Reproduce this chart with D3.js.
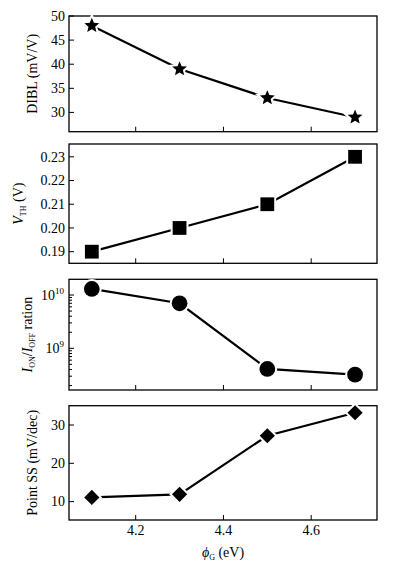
<!DOCTYPE html>
<html>
<head>
<meta charset="utf-8">
<script src="https://cdn.jsdelivr.net/npm/d3@7"></script>
<style>
  body { margin: 0; background: #fff; }
</style>
</head>
<body>
<svg id="chart" width="394" height="565" font-family="'Liberation Serif', 'Times New Roman', Times, serif"></svg>
<script>
// work function values (x axis)
var phiG = [4.1, 4.3, 4.5, 4.7];
var xTicks = [4.2, 4.4, 4.6];

// series
var dibl = [48, 39, 33, 29];
var vth = [0.19, 0.20, 0.21, 0.23];
var onOff = [1.3e10, 7.0e9, 4.1e8, 3.2e8];
var pointSS = [11.1, 11.9, 27.2, 33.2];

var diblTicks = [30, 35, 40, 45, 50];
var vthTicks = [0.19, 0.20, 0.21, 0.22, 0.23];
var ssTicks = [10, 20, 30];

var svg = d3.select("#chart");
var left = 69, right = 377;

var x = d3.scaleLinear().domain([4.048, 4.75]).range([left, right]);

// five point star with a fatter body than d3.symbolStar
var starPath = function(R) {
  var r = R * 0.45, pts = [];
  for (var k = 0; k < 10; k++) {
    var a = -Math.PI / 2 + k * Math.PI / 5;
    var rr = k % 2 ? r : R;
    pts.push([rr * Math.cos(a), rr * Math.sin(a)]);
  }
  return "M" + pts.join("L") + "Z";
};
var diamondPath = function(h) {
  return "M0," + (-h) + "L" + h + ",0L0," + h + "L" + (-h) + ",0Z";
};

var panels = [
  { top: 16, bottom: 131.7, y: d3.scaleLinear().domain([26, 50]), values: dibl,
    ticks: diblTicks, fmt: d3.format("d"), marker: starPath(7.8), labelX: 37 },
  { top: 144, bottom: 263.3, y: d3.scaleLinear().domain([0.1851, 0.2354]), values: vth,
    ticks: vthTicks, fmt: d3.format(".2f"), marker: d3.symbol().type(d3.symbolSquare).size(190)(), labelX: 23 },
  { top: 279.3, bottom: 390, y: d3.scaleLog().domain([Math.pow(10, 8.218), Math.pow(10, 10.295)]), values: onOff,
    log: true, marker: d3.symbol().type(d3.symbolCircle).size(195)(), labelX: 32 },
  { top: 405.7, bottom: 520, y: d3.scaleLinear().domain([5.2, 35.04]), values: pointSS,
    ticks: ssTicks, fmt: d3.format("d"), marker: diamondPath(7.6), labelX: 37, xLabels: true }
];

panels.forEach(function(p, i) {
  p.y.range([p.bottom, p.top]);
  var g = svg.append("g");

  // y ticks (inward)
  var yt = p.log ? p.y.ticks() : p.ticks;
  yt.forEach(function(t) {
    var major = !p.log || Math.abs(Math.log10(t) - Math.round(Math.log10(t))) < 1e-9;
    var yy = p.y(t);
    g.append("line")
      .attr("x1", left).attr("x2", left + (major ? 5 : 3))
      .attr("y1", yy).attr("y2", yy)
      .attr("stroke", "#000").attr("stroke-width", 1);
    if (p.log) {
      if (major) {
        var lt = g.append("text")
          .attr("x", 64).attr("y", yy + 4.5)
          .attr("text-anchor", "end")
          .style("font-size", "14px");
        lt.append("tspan").text("10");
        lt.append("tspan").attr("dy", -6).style("font-size", "9px").text(Math.round(Math.log10(t)));
      }
    } else {
      g.append("text")
        .attr("x", 65).attr("y", yy + 4.8)
        .attr("text-anchor", "end")
        .style("font-size", "14px")
        .text(p.fmt(t));
    }
  });

  // x ticks (inward from bottom)
  xTicks.forEach(function(t) {
    g.append("line")
      .attr("x1", x(t)).attr("x2", x(t))
      .attr("y1", p.bottom).attr("y2", p.bottom - 5)
      .attr("stroke", "#000").attr("stroke-width", 1);
    if (p.xLabels) {
      g.append("text")
        .attr("x", x(t)).attr("y", p.bottom + 15)
        .attr("text-anchor", "middle")
        .style("font-size", "14px")
        .text(t.toFixed(1));
    }
  });

  // frame
  g.append("rect")
    .attr("x", left).attr("y", p.top)
    .attr("width", right - left).attr("height", p.bottom - p.top)
    .attr("fill", "none").attr("stroke", "#000").attr("stroke-width", 1.3);

  // line
  var line = d3.line()
    .x(function(d, j) { return x(phiG[j]); })
    .y(function(d) { return p.y(d); });
  g.append("path")
    .datum(p.values)
    .attr("d", line)
    .attr("fill", "none")
    .attr("stroke", "#000")
    .attr("stroke-width", 2.2);

  // markers with white halo to leave a small gap
  p.values.forEach(function(v, j) {
    var tr = "translate(" + x(phiG[j]) + "," + p.y(v) + ")";
    g.append("path").attr("d", p.marker).attr("transform", tr)
      .attr("fill", "#fff").attr("stroke", "#fff").attr("stroke-width", 4);
    g.append("path").attr("d", p.marker).attr("transform", tr)
      .attr("fill", "#000");
  });

  // y label
  var cy = (p.top + p.bottom) / 2;
  var lab = g.append("text")
    .attr("transform", "translate(" + p.labelX + "," + cy + ") rotate(-90)")
    .attr("text-anchor", "middle")
    .style("font-size", "14px");
  if (i === 0) {
    lab.text("DIBL (mV/V)");
  } else if (i === 1) {
    lab.append("tspan").style("font-style", "italic").text("V");
    lab.append("tspan").attr("dy", 3).style("font-size", "8px").text("TH");
    lab.append("tspan").attr("dy", -3).text(" (V)");
  } else if (i === 2) {
    lab.append("tspan").style("font-style", "italic").text("I");
    lab.append("tspan").attr("dy", 3).style("font-size", "8px").text("ON");
    lab.append("tspan").attr("dy", -3).text("/");
    lab.append("tspan").style("font-style", "italic").text("I");
    lab.append("tspan").attr("dy", 3).style("font-size", "8px").text("OFF");
    lab.append("tspan").attr("dy", -3).text(" ration");
  } else {
    lab.text("Point SS (mV/dec)");
  }
});

// x axis label
var xl = svg.append("text")
  .attr("x", (left + right) / 2).attr("y", 557)
  .attr("text-anchor", "middle")
  .style("font-size", "14px");
xl.append("tspan").style("font-style", "italic").text("\u03d5");
xl.append("tspan").attr("dy", 3).style("font-size", "8px").text("G");
xl.append("tspan").attr("dy", -3).text(" (eV)");
</script>
</body>
</html>
